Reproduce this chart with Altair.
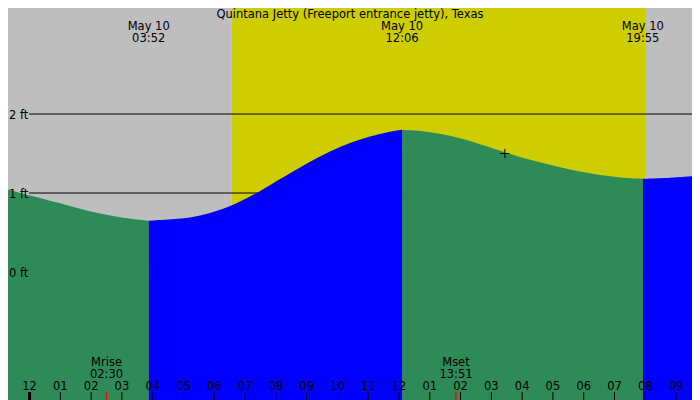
import altair as alt
import pandas as pd

TITLE = "Quintana Jetty (Freeport entrance jetty), Texas"

# tide curve: hours after midnight of May 10, height in feet
curve_hours = [-0.96, -0.31, 0.34, 0.99, 1.64, 2.29, 2.94, 3.87, 4.89, 5.54, 6.19, 6.84,
               7.38, 7.81, 8.46, 9.11, 9.76, 10.41, 11.06, 11.71, 12.10, 12.68, 13.33,
               13.98, 14.63, 15.44, 15.93, 16.58, 17.23, 17.88, 18.53, 19.18, 19.92,
               20.80, 21.78]
curve_ft = [1.07, 1.00, 0.94, 0.87, 0.80, 0.74, 0.69, 0.65, 0.67, 0.71, 0.78, 0.89,
            1.00, 1.10, 1.25, 1.40, 1.53, 1.635, 1.72, 1.78, 1.80, 1.79, 1.755,
            1.695, 1.62, 1.515, 1.455, 1.39, 1.325, 1.27, 1.225, 1.195, 1.18,
            1.19, 1.22]

# high / low water
extreme_hours = [3.87, 12.10, 19.92]
extreme_dates = ["May 10", "May 10", "May 10"]
extreme_times = ["03:52", "12:06", "19:55"]

# daylight
sunrise_hour = 6.55
sunset_hour = 20.02

# moon
moon_hours = [2.50, 13.85]
moon_names = ["Mrise", "Mset"]
moon_times = ["02:30", "13:51"]

# hour axis
tick_hours = list(range(0, 22))
tick_labels = ["12", "01", "02", "03", "04", "05", "06", "07", "08", "09", "10",
               "11", "12", "01", "02", "03", "04", "05", "06", "07", "08", "09"]

# height levels
level_ft = [0, 1, 2]
level_labels = ["0 ft", "1 ft", "2 ft"]

# current reading marker
now_hour = 15.44
now_ft = 1.50

W, H = 684, 392
FONT = "DejaVu Sans"
FS = 11.5
Y_MIN, Y_MAX = -1.62, 3.342
X = alt.Scale(domain=[-0.7, 21.517], nice=False, zero=False)
Y = alt.Scale(domain=[Y_MIN, Y_MAX], nice=False, zero=False)

# split the curve into ebb / flood pieces at each extreme
rows = []
for h, ft in zip(curve_hours, curve_ft):
    seg = int(sum(h > e for e in extreme_hours))
    rows.append({"hour": h, "ft": ft, "seg": seg})
    if h in extreme_hours:
        rows.append({"hour": h, "ft": ft, "seg": seg + 1})
tide = pd.DataFrame(rows)
tide["phase"] = ["ebb" if s % 2 == 0 else "flood" for s in tide["seg"]]

bands = pd.DataFrame({
    "start": [-2, sunrise_hour, sunset_hour],
    "end": [sunrise_hour, sunset_hour, 23],
    "kind": ["night", "day", "night"],
})
levels = pd.DataFrame({"ft": level_ft, "label": level_labels})
ticks = pd.DataFrame({"hour": tick_hours, "label": tick_labels})
extremes = pd.DataFrame({"hour": extreme_hours, "date": extreme_dates, "time": extreme_times})
moon = pd.DataFrame({"hour": moon_hours, "name": moon_names, "time": moon_times})
now = pd.DataFrame({"hour": [now_hour], "ft": [now_ft]})
title = pd.DataFrame({"t": [TITLE]})

bg = alt.Chart(bands).mark_rect(clip=True).encode(
    x=alt.X("start:Q", scale=X, axis=None),
    x2="end:Q",
    y=alt.value(0), y2=alt.value(H),
    color=alt.Color("kind:N", scale=alt.Scale(domain=["night", "day"], range=["#BEBEBE", "#CDCD00"]), legend=None),
)

lines = alt.Chart(levels).mark_rule(color="black", strokeWidth=1).encode(
    x=alt.value(21), x2=alt.value(W),
    y=alt.Y("ft:Q", scale=Y, axis=None),
)
level_text = alt.Chart(levels).mark_text(align="left", baseline="alphabetic", dy=5,
                                         font=FONT, fontSize=FS, color="black").encode(
    x=alt.value(1), y=alt.Y("ft:Q", scale=Y, axis=None), text="label:N"
)


def water(phase, colour):
    return alt.Chart(tide).transform_filter(
        alt.datum.phase == phase
    ).mark_area(clip=True, interpolate="basis", color=colour, opacity=1).encode(
        x=alt.X("hour:Q", scale=X, axis=None),
        y=alt.Y("ft:Q", scale=Y, axis=None, stack=None),
        y2=alt.datum(Y_MIN),
        detail="seg:N",
    )


ebb = water("ebb", "#2E8B57")
flood = water("flood", "#0000FF")

tick_marks = alt.Chart(ticks).mark_rule(color="black").encode(
    x=alt.X("hour:Q", scale=X, axis=None),
    y=alt.value(H - 8), y2=alt.value(H),
    strokeWidth=alt.condition(alt.datum.hour == 0, alt.value(3), alt.value(1)),
)
tick_text = alt.Chart(ticks).mark_text(baseline="alphabetic", font=FONT, fontSize=FS, color="black").encode(
    x=alt.X("hour:Q", scale=X, axis=None), y=alt.value(H - 10), text="label:N"
)

moon_marks = alt.Chart(moon).mark_rule(color="#FF0000", strokeWidth=1.5).encode(
    x=alt.X("hour:Q", scale=X, axis=None),
    y=alt.value(H - 8), y2=alt.value(H),
)
moon_name = alt.Chart(moon).mark_text(baseline="alphabetic", font=FONT, fontSize=FS, color="black").encode(
    x=alt.X("hour:Q", scale=X, axis=None), y=alt.value(357.5), text="name:N"
)
moon_time = alt.Chart(moon).mark_text(baseline="alphabetic", font=FONT, fontSize=FS, color="black").encode(
    x=alt.X("hour:Q", scale=X, axis=None), y=alt.value(369.7), text="time:N"
)

ext_date = alt.Chart(extremes).mark_text(baseline="alphabetic", font=FONT, fontSize=FS, color="black").encode(
    x=alt.X("hour:Q", scale=X, axis=None), y=alt.value(21.5), text="date:N"
)
ext_time = alt.Chart(extremes).mark_text(baseline="alphabetic", font=FONT, fontSize=FS, color="black").encode(
    x=alt.X("hour:Q", scale=X, axis=None), y=alt.value(33.7), text="time:N"
)

cross = alt.Chart(now).mark_point(shape="M-1,0H1M0,-1V1", size=81, filled=False,
                                  stroke="black", strokeWidth=1, opacity=1).encode(
    x=alt.X("hour:Q", scale=X, axis=None),
    y=alt.Y("ft:Q", scale=Y, axis=None),
)

head = alt.Chart(title).mark_text(baseline="alphabetic", font=FONT, fontSize=FS, color="black").encode(
    x=alt.value(342), y=alt.value(10), text="t:N"
)

chart = alt.layer(
    bg, lines, ebb, flood, level_text, tick_marks, moon_marks, tick_text,
    moon_name, moon_time, ext_date, ext_time, cross, head
).properties(
    width=W, height=H, padding=0,
    autosize=alt.AutoSizeParams(type="none"),
).configure_view(stroke=None)

chart.save("out.html", embed_options={"renderer": "svg", "actions": False})
